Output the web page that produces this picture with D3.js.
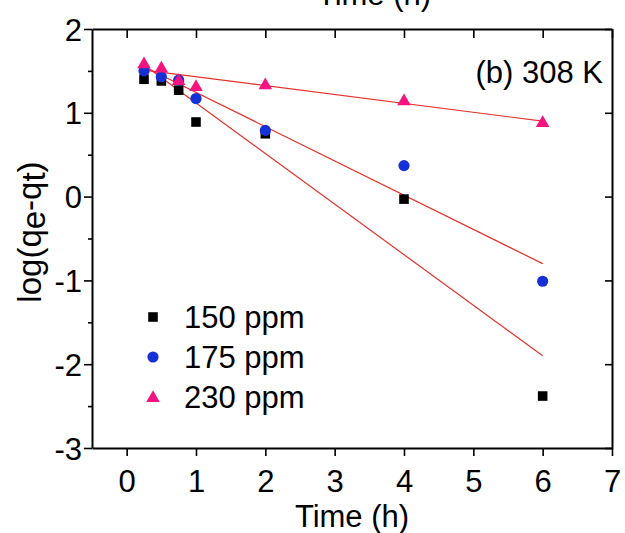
<!DOCTYPE html>
<html>
<head>
<meta charset="utf-8">
<script src="https://cdn.jsdelivr.net/npm/d3@7"></script>
<style>
  body { margin: 0; background: #fff; }
  text { font-family: "Liberation Sans", Arial, sans-serif; fill: #000; }
</style>
</head>
<body>
<div id="chart"></div>
<script>
// data
var times = [0.25, 0.5, 0.75, 1, 2, 4, 6];
var ppm150 = [1.40, 1.38, 1.27, 0.89, 0.75, -0.03, -2.38];
var ppm175 = [1.50, 1.43, 1.39, 1.17, 0.79, 0.37, -1.01];
var ppm230 = [1.59, 1.54, 1.39, 1.32, 1.34, 1.15, 0.89];
// fitted lines: [t start, value start, t end, value end]
var fit150 = [0.25, 1.57, 6, -1.90];
var fit175 = [0.25, 1.55, 6, -0.80];
var fit230 = [0.25, 1.51, 6, 0.90];
var seriesNames = ["150 ppm", "175 ppm", "230 ppm"];
var xTicks = [0, 1, 2, 3, 4, 5, 6, 7];
var yTicks = [-3, -2, -1, 0, 1, 2];
var yMinor = [-2.5, -1.5, -0.5, 0.5, 1.5];

var W = 625, H = 533;
var margin = {top: 29, right: 13, bottom: 85, left: 92},
    width = W - margin.left - margin.right,
    height = H - margin.top - margin.bottom;

var svg = d3.select("#chart")
  .append("svg")
    .attr("width", W)
    .attr("height", H);

var g = svg.append("g")
    .attr("transform", "translate(" + margin.left + "," + margin.top + ")");

var x = d3.scaleLinear().domain([-0.5, 7]).range([0, width]);
var y = d3.scaleLinear().domain([-3, 2]).range([height, 0]);

function styleAxis(sel) {
  sel.selectAll("path").attr("stroke", "#000").attr("stroke-width", 2);
  sel.selectAll("line").attr("stroke", "#000").attr("stroke-width", 1.6);
  sel.selectAll("text").style("font-size", "31px")
    .style("font-family", '"Liberation Sans", Arial, sans-serif');
}

// bottom axis
var xb = g.append("g")
  .attr("transform", "translate(0," + height + ")")
  .call(d3.axisBottom(x).tickValues(xTicks).tickSize(8).tickSizeOuter(0));
xb.selectAll("text").attr("y", 44).attr("dy", 0);
styleAxis(xb);

// top axis
var xt = g.append("g")
  .call(d3.axisTop(x).tickValues(xTicks).tickSize(-9).tickSizeOuter(0).tickFormat(""));
styleAxis(xt);

// left axis
var yl = g.append("g")
  .call(d3.axisLeft(y).tickValues(yTicks).tickSize(8).tickSizeOuter(0).tickFormat(d3.format("d")));
yl.selectAll("text").attr("x", -10).attr("dy", "0.36em");
styleAxis(yl);
var ym = g.append("g")
  .call(d3.axisLeft(y).tickValues(yMinor).tickSize(4).tickSizeOuter(0).tickFormat(""));
styleAxis(ym);
ym.select("path").remove();

// right axis
var yr = g.append("g")
  .attr("transform", "translate(" + width + ",0)")
  .call(d3.axisRight(y).tickValues(yTicks).tickSize(-7).tickSizeOuter(0).tickFormat(""));
styleAxis(yr);

// tick labels use minus sign as hyphen like the original
yl.selectAll("text").text(d => String(d));

// fit lines
var fits = [fit150, fit175, fit230];
g.append("g").selectAll("line")
  .data(fits)
  .enter()
  .append("line")
    .attr("x1", d => x(d[0]))
    .attr("y1", d => y(d[1]))
    .attr("x2", d => x(d[2]))
    .attr("y2", d => y(d[3]))
    .attr("stroke", "#e5322d")
    .attr("stroke-width", 1.2);

var sq = d3.symbol().type(d3.symbolSquare).size(92);
var ci = d3.symbol().type(d3.symbolCircle).size(98);
var tr = d3.symbol().type(d3.symbolTriangle).size(80);

// squares
g.append("g").selectAll("path")
  .data(times.map((t, i) => [t, ppm150[i]]))
  .enter().append("path")
    .attr("d", sq)
    .attr("transform", d => "translate(" + x(d[0]) + "," + y(d[1]) + ")")
    .attr("fill", "#000");

// circles
g.append("g").selectAll("path")
  .data(times.map((t, i) => [t, ppm175[i]]))
  .enter().append("path")
    .attr("d", ci)
    .attr("transform", d => "translate(" + x(d[0]) + "," + y(d[1]) + ")")
    .attr("fill", "#1530d6");

// triangles
g.append("g").selectAll("path")
  .data(times.map((t, i) => [t, ppm230[i]]))
  .enter().append("path")
    .attr("d", tr)
    .attr("transform", d => "translate(" + x(d[0]) + "," + (y(d[1]) + 1) + ")")
    .attr("fill", "#f5147f");

// legend
var legSyms = [sq, ci, tr];
var legCols = ["#000", "#1530d6", "#f5147f"];
var leg = svg.append("g");
seriesNames.forEach(function(name, i) {
  var ly = 317 + i * 40;
  leg.append("path")
    .attr("d", legSyms[i])
    .attr("transform", "translate(153," + (ly + (i == 2 ? 1 : 0)) + ")")
    .attr("fill", legCols[i]);
  leg.append("text")
    .attr("x", 184)
    .attr("y", ly + 11)
    .style("font-size", "31px")
    .text(name);
});

// panel label
svg.append("text")
  .attr("x", 603)
  .attr("y", 83)
  .attr("text-anchor", "end")
  .style("font-size", "31px")
  .text("(b) 308 K");

// x title
svg.append("text")
  .attr("x", 352)
  .attr("y", 527)
  .attr("text-anchor", "middle")
  .style("font-size", "31px")
  .text("Time (h)");

// title of panel above, mostly cut off
svg.append("text")
  .attr("x", 374)
  .attr("y", 5)
  .attr("text-anchor", "middle")
  .style("font-size", "31px")
  .text("Time (h)");

// y title
var yt = svg.append("text")
  .attr("transform", "translate(41,232) rotate(-90)")
  .attr("text-anchor", "middle")
  .style("font-size", "33px");
yt.append("tspan").text("log(q");
yt.append("tspan").attr("dy", 4).text("e");
yt.append("tspan").attr("dy", -4).text("-q");
yt.append("tspan").attr("dy", 4).text("t");
yt.append("tspan").attr("dy", -4).text(")");
</script>
</body>
</html>
